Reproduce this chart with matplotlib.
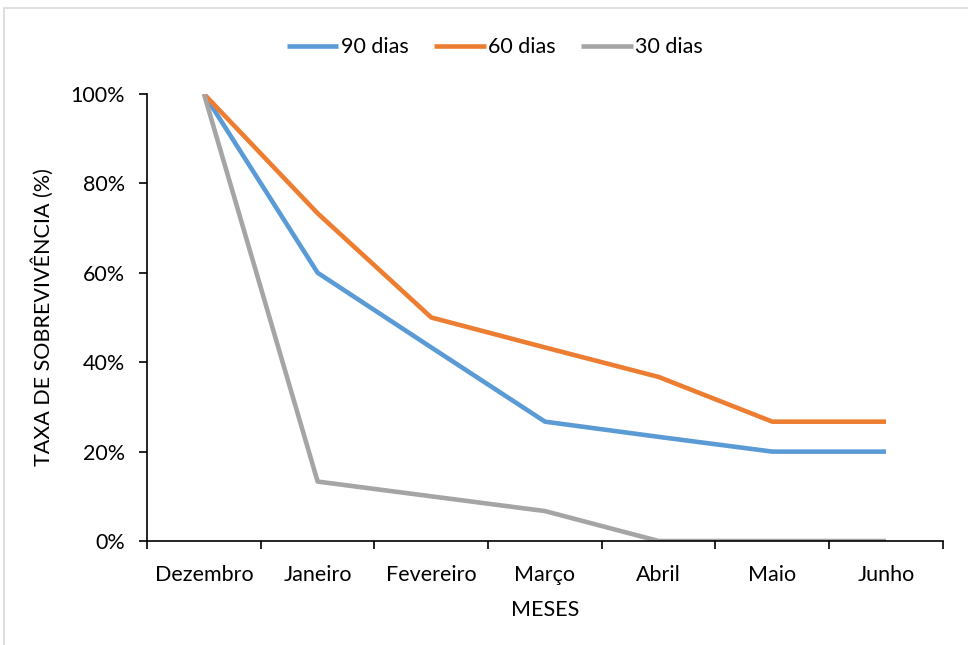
import matplotlib.pyplot as plt
from matplotlib.patches import Rectangle
from matplotlib.ticker import PercentFormatter

plt.rcParams['font.family'] = ['Lato', 'DejaVu Sans']

meses = ['Dezembro', 'Janeiro', 'Fevereiro', 'Março', 'Abril', 'Maio', 'Junho']
dias_90 = [100, 60, 43.3, 26.7, 23.3, 20, 20]
dias_60 = [100, 73.3, 50, 43.3, 36.7, 26.7, 26.7]
dias_30 = [100, 13.3, 10, 6.7, 0, 0, 0]

series = [('90 dias', dias_90, '#5B9BD5'),
          ('60 dias', dias_60, '#ED7D31'),
          ('30 dias', dias_30, '#A5A5A5')]

fig = plt.figure(figsize=(9.68, 6.45), dpi=100)
ax = fig.add_axes([0.152, 0.1612, 0.822, 0.6931])

# light frame around the chart area, like the Excel screenshot
fig.patches.append(Rectangle((0.004, -0.01), 1.1, 0.998, transform=fig.transFigure,
                             fill=False, edgecolor='#d9d9d9', linewidth=1.2))

x = range(len(meses))
for label, vals, color in series:
    ax.plot(x, vals, color=color, linewidth=3.3, label=label, solid_capstyle='butt')

ax.set_xlim(-0.5, len(meses) - 0.5)
ax.set_ylim(0, 100)
ax.set_yticks([0, 20, 40, 60, 80, 100])
ax.yaxis.set_major_formatter(PercentFormatter(decimals=0))
ax.set_xticks(list(x))
ax.set_xticklabels(meses)
ax.set_xticks([i - 0.5 for i in range(len(meses) + 1)], minor=True)
ax.tick_params(axis='x', which='major', length=0, pad=17, labelsize=15.5)
ax.tick_params(axis='x', which='minor', length=6, width=1.2, direction='out')
ax.tick_params(axis='y', length=6, width=1.2, direction='out', labelsize=15.5, pad=10)

for side in ['top', 'right']:
    ax.spines[side].set_visible(False)
ax.spines['left'].set_linewidth(1.2)
ax.spines['bottom'].set_linewidth(1.2)

ax.set_xlabel('MESES', fontsize=15.5, labelpad=11)
ax.set_ylabel('TAXA DE SOBREVIVÊNCIA (%)', fontsize=15.5, labelpad=12)

ax.legend(loc='upper center', bbox_to_anchor=(0.437, 1.17), ncol=3, frameon=False,
          fontsize=15.5, handlelength=2.4, handletextpad=0.1, columnspacing=1.2)

fig.savefig('out.png', dpi=100)
